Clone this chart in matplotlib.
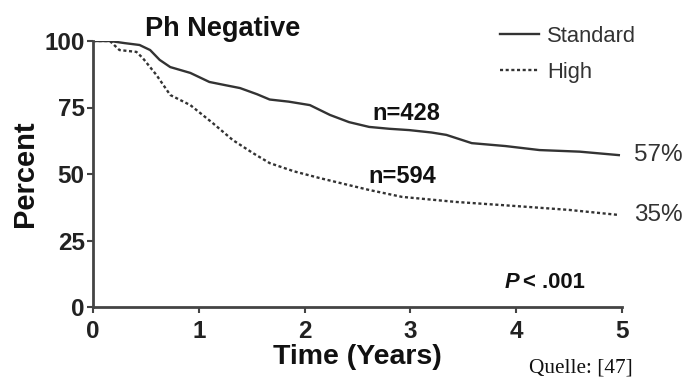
import matplotlib
matplotlib.use('Agg')
import matplotlib.pyplot as plt
from matplotlib.transforms import offset_copy

# Kaplan-Meier curves (years, percent)
std_t = [0, 0.16, 0.3, 0.44, 0.54, 0.63, 0.73, 0.92, 1.1, 1.25, 1.39, 1.55, 1.67, 1.85,
         2.05, 2.24, 2.42, 2.61, 2.8, 2.99, 3.2, 3.34, 3.58, 3.9, 4.22, 4.6, 4.97]
std_y = [100, 100, 99.2, 98.5, 96.6, 92.9, 90.2, 88, 84.6, 83.4, 82.3, 80, 78, 77.2,
         75.9, 72.2, 69.5, 67.7, 67, 66.5, 65.6, 64.7, 61.6, 60.5, 59, 58.4, 57.1]
high_t = [0, 0.16, 0.25, 0.41, 0.47, 0.6, 0.73, 0.92, 1.13, 1.32, 1.51, 1.67, 1.9,
          2.14, 2.4, 2.61, 2.92, 3.43, 3.87, 4.12, 4.5, 4.97]
high_y = [100, 100, 96.6, 95.9, 93.6, 87.2, 79.7, 75.9, 69.2, 62.8, 57.9, 54.1, 51,
          48.5, 46, 44, 41.4, 39.5, 38.3, 37.6, 36.5, 34.6]

labels = ['Standard', 'High']
n_labels = ['n=428', 'n=594']
end_labels = ['57%', '35%']
x_ticks = [0, 1, 2, 3, 4, 5]
y_ticks = [0, 25, 50, 75, 100]

plt.rcParams['font.family'] = ['Liberation Sans', 'DejaVu Sans']
dark = '#333333'

fig = plt.figure(figsize=(6.84, 3.78), dpi=100)
ax = fig.add_axes([93 / 684, 1 - 307 / 378, 529 / 684, 266 / 378])

ax.plot(std_t, std_y, color=dark, lw=1.7, label=labels[0])
ax.plot(high_t, high_y, color=dark, lw=1.7, ls=(0, (1.3, 1.1)), label=labels[1])

ax.set_xlim(0, 5)
ax.set_ylim(0, 100)
ax.set_xticks(x_ticks)
ax.set_yticks(y_ticks)
for s in ['top', 'right']:
    ax.spines[s].set_visible(False)
for s in ['left', 'bottom']:
    ax.spines[s].set_color('#444444')
    ax.spines[s].set_linewidth(2)
ax.tick_params(length=4, width=1.5, color='#444444', labelsize=17.5, pad=2)
ax.tick_params(axis='x', pad=5)
for lab in ax.get_xticklabels() + ax.get_yticklabels():
    lab.set_fontweight('bold')
    lab.set_color('#222222')

ax.set_xlabel('Time (Years)', fontsize=20.5, fontweight='bold', color='#111111', labelpad=1)
ax.set_ylabel('Percent', fontsize=21, fontweight='bold', color='#111111', labelpad=4)

fig.text(145 / 684, 1 - 29 / 378, 'Ph Negative', fontsize=19.5, fontweight='bold',
         color='#111111', va='center')

ax.text(2.64, 70.3, n_labels[0], fontsize=17, fontweight='bold', color='#111111', va='baseline')
ax.text(2.60, 46.6, n_labels[1], fontsize=17, fontweight='bold', color='#111111', va='baseline')
ax.text(5.11, std_y[-1], end_labels[0], fontsize=17.5, color='#333333', va='center', clip_on=False)
ax.text(5.11, high_y[-1], end_labels[1], fontsize=17.5, color='#333333', va='center', clip_on=False)

# P value: italic P followed by bold "< .001"
ax.text(4.03, 7.1, 'P', fontsize=15.8, fontweight='bold', fontstyle='italic', color='#111111',
        ha='right', va='baseline')
tr = offset_copy(ax.transData, fig=fig, x=2.5, y=0, units='points')
ax.text(4.03, 7.1, '< .001', fontsize=15.8, fontweight='bold', color='#111111',
        ha='left', va='baseline', transform=tr)

fig.legend(loc='upper left', bbox_to_anchor=(480 / 684, 1 - 6 / 378), frameon=False,
           fontsize=15.8, handlelength=1.8, handletextpad=0.37, labelspacing=0.7,
           labelcolor='#333333')

fig.text(529 / 684, 1 - 373 / 378, 'Quelle: [47]', fontsize=15.3, family='Liberation Serif',
         color='#111111', va='baseline')

fig.savefig('out.png', dpi=100)
